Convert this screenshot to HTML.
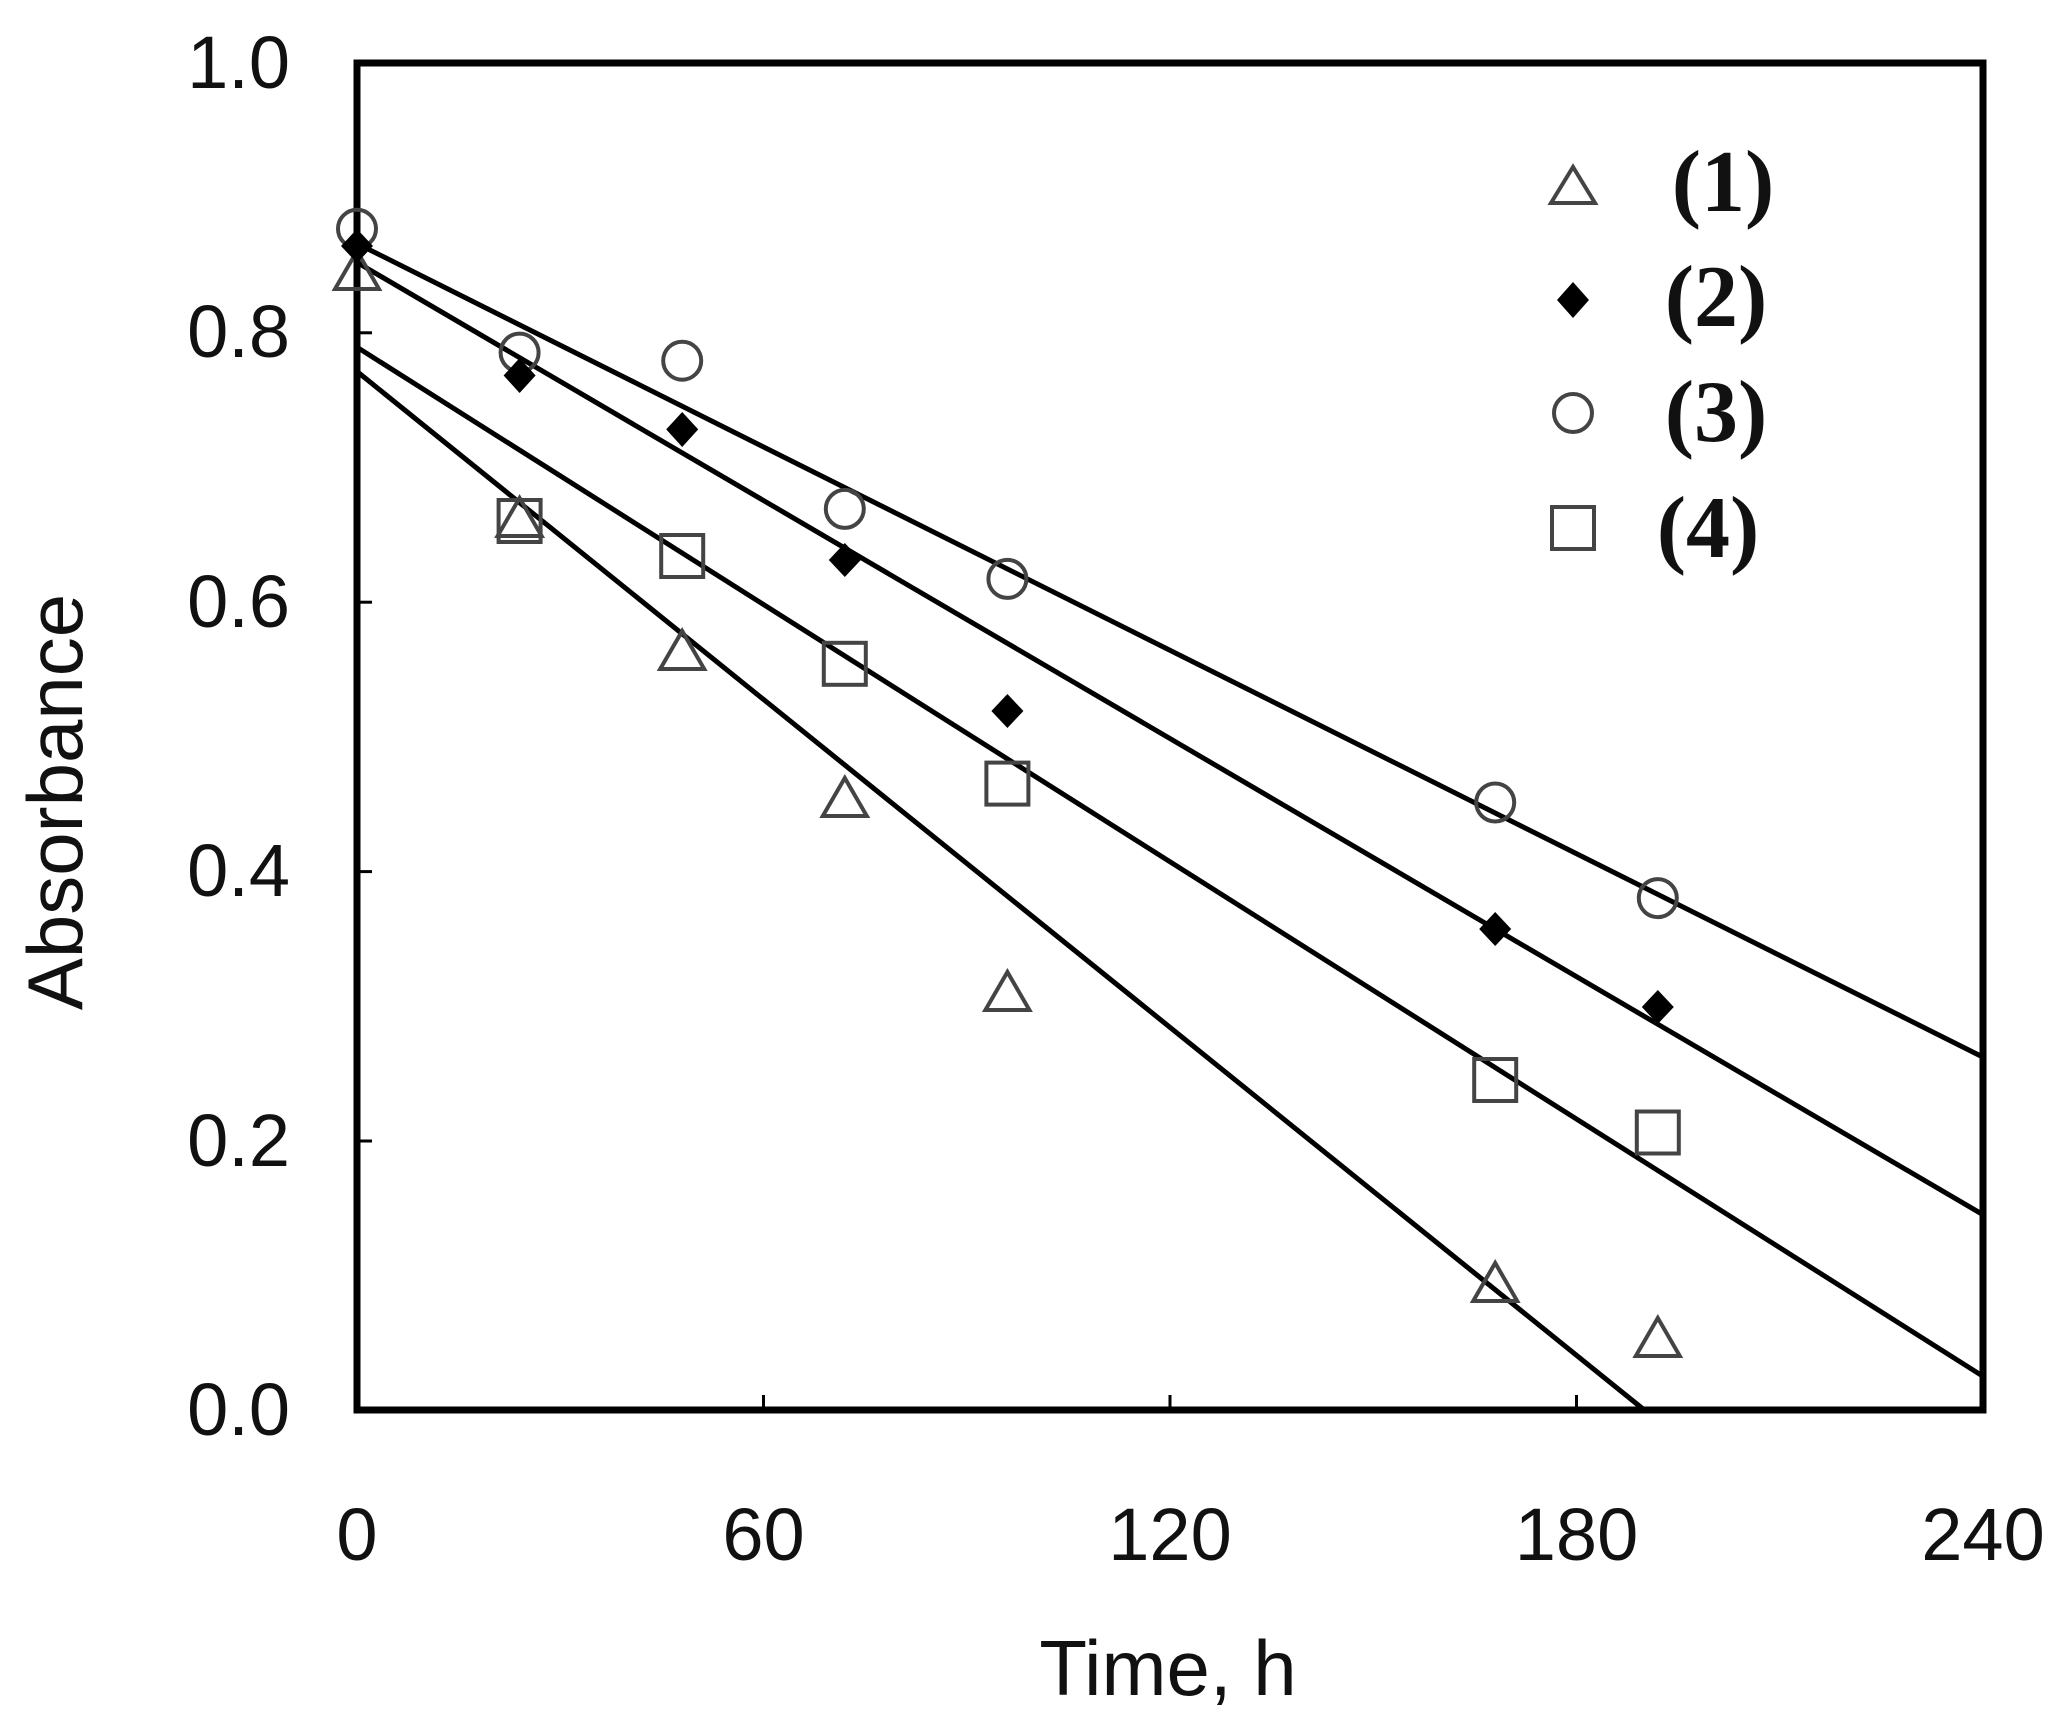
<!DOCTYPE html>
<html><head><meta charset="utf-8"><style>html,body{margin:0;padding:0;background:#fff}svg{display:block}</style></head>
<body>
<svg width="2071" height="1735" viewBox="0 0 2071 1735" xmlns="http://www.w3.org/2000/svg">
<rect width="2071" height="1735" fill="#fff"/>
<g stroke="#000" stroke-width="5" fill="none">
<line x1="357" y1="243.5" x2="1983" y2="1057.1"/>
<line x1="357" y1="262.4" x2="1983" y2="1214.7"/>
<line x1="357" y1="347.2" x2="1983" y2="1376.3"/>
<line x1="357" y1="371.5" x2="1644.3" y2="1410"/>
</g>
<g stroke="#000" stroke-width="3">
<line x1="357" y1="1141" x2="372" y2="1141"/>
<line x1="357" y1="871.6" x2="372" y2="871.6"/>
<line x1="357" y1="602.2" x2="372" y2="602.2"/>
<line x1="357" y1="332.8" x2="372" y2="332.8"/>
<line x1="763.5" y1="1410" x2="763.5" y2="1395"/>
<line x1="1170" y1="1410" x2="1170" y2="1395"/>
<line x1="1576.5" y1="1410" x2="1576.5" y2="1395"/>
</g>
<rect x="357" y="63" width="1626" height="1347" fill="none" stroke="#000" stroke-width="7"/>
<g fill="none" stroke="#444" stroke-width="4">
<polygon points="357,251 335,289 379,289"/>
<polygon points="519.6,498 497.6,536 541.6,536"/>
<polygon points="682.2,631 660.2,669 704.2,669"/>
<polygon points="844.8,778 822.8,816 866.8,816"/>
<polygon points="1007.4,972 985.4,1010 1029.4,1010"/>
<polygon points="1495.2,1263 1473.2,1301 1517.2,1301"/>
<polygon points="1657.8,1318 1635.8,1356 1679.8,1356"/>
<circle cx="357" cy="228.7" r="19"/>
<circle cx="519.6" cy="352.6" r="19"/>
<circle cx="682.2" cy="360.7" r="19"/>
<circle cx="844.8" cy="508.9" r="19"/>
<circle cx="1007.4" cy="578.9" r="19"/>
<circle cx="1495.2" cy="802.5" r="19"/>
<circle cx="1657.8" cy="898.1" r="19"/>
<rect x="498.6" y="500" width="42" height="42"/>
<rect x="661.2" y="535" width="42" height="42"/>
<rect x="823.8" y="642.8" width="42" height="42"/>
<rect x="986.4" y="762.6" width="42" height="42"/>
<rect x="1474.2" y="1059" width="42" height="42"/>
<rect x="1636.8" y="1111.5" width="42" height="42"/>
</g>
<g fill="#000">
<polygon points="357,229 373,246 357,263 341,246"/>
<polygon points="519.6,358 535.6,375.5 519.6,393 503.6,375.5"/>
<polygon points="682.2,412 698.2,429.4 682.2,447 666.2,429.4"/>
<polygon points="844.8,543 860.8,560 844.8,577 828.8,560"/>
<polygon points="1007.4,694 1023.4,711 1007.4,728 991.4,711"/>
<polygon points="1495.2,912 1511.2,929 1495.2,946 1479.2,929"/>
<polygon points="1657.8,990 1673.8,1007 1657.8,1024 1641.8,1007"/>
</g>
<g fill="none" stroke="#444" stroke-width="4">
<polygon points="1573,167 1551,203 1595,203"/>
<circle cx="1573" cy="413" r="19"/>
<rect x="1552" y="507" width="42" height="42"/>
</g>
<polygon points="1573,282 1589,300 1573,318 1557,300" fill="#000"/>
<g font-family="'Liberation Serif', serif" font-size="88" font-weight="bold" fill="#111" text-anchor="middle">
<text x="1723" y="211">(1)</text>
<text x="1716" y="326">(2)</text>
<text x="1716" y="441">(3)</text>
<text x="1708" y="557">(4)</text>
</g>
<g font-family="'Liberation Sans', sans-serif" font-size="74" fill="#111" text-anchor="end">
<text x="290" y="88">1.0</text>
<text x="290" y="357">0.8</text>
<text x="290" y="627">0.6</text>
<text x="290" y="896">0.4</text>
<text x="290" y="1166">0.2</text>
<text x="290" y="1435">0.0</text>
</g>
<g font-family="'Liberation Sans', sans-serif" font-size="74" fill="#111" text-anchor="middle">
<text x="357" y="1560">0</text>
<text x="763.5" y="1560">60</text>
<text x="1170" y="1560">120</text>
<text x="1576.5" y="1560">180</text>
<text x="1983" y="1560">240</text>
<text x="1168" y="1695" font-size="78">Time, h</text>
<text transform="translate(82,802) rotate(-90)" font-size="78">Absorbance</text>
</g>
</svg>
</body></html>
